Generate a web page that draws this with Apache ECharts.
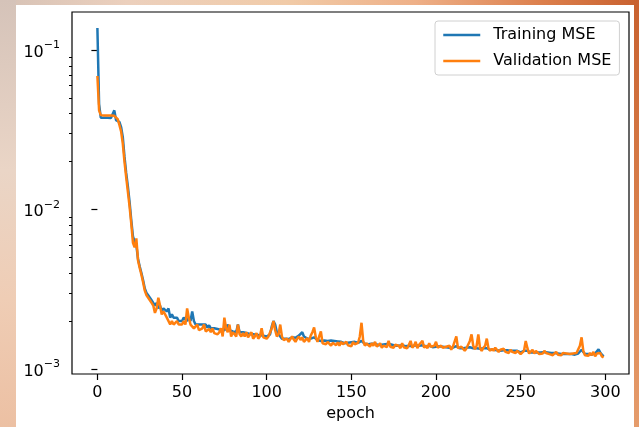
<!DOCTYPE html>
<html><head><meta charset="utf-8">
<script src="https://cdn.jsdelivr.net/npm/echarts@6/dist/echarts.min.js"></script>
<style>
html,body{margin:0;padding:0;width:639px;height:427px;overflow:hidden;}
#bg{position:absolute;left:0;top:0;width:639px;height:427px;background:linear-gradient(to right,#d6c2b6 0%,#ecd0bd 20%,#f1cba8 45%,#eeb088 65%,#dc7f4c 85%,#c8612f 100%);}
#left{position:absolute;left:0;top:0;width:16px;height:427px;background:linear-gradient(to bottom,#d5c3b9 0%,#ead5c6 40%,#efcdb5 70%,#ecc0a3 100%);}
#right{position:absolute;left:634px;top:0;width:5px;height:427px;background:linear-gradient(to bottom,#c8612f 0%,#d9804c 50%,#e59c6c 100%);}
#paper{position:absolute;left:16px;top:5px;width:618px;height:422px;background:#fff;}
#chart{position:absolute;left:0;top:0;width:639px;height:427px;}
</style></head>
<body>
<div id="bg"></div><div id="left"></div><div id="right"></div><div id="paper"></div>
<div id="chart"></div>
<script>
const seriesNames = ['Training MSE', 'Validation MSE'];
const xLabel = 'epoch';
const xTicks = [0, 50, 100, 150, 200, 250, 300];
const yMajorTicks = [0.001, 0.01, 0.1];
const yMajorExponents = ['−3', '−2', '−1'];
const yMinorTicks = [0.002,0.003,0.004,0.005,0.006,0.007,0.008,0.009,0.02,0.03,0.04,0.05,0.06,0.07,0.08,0.09];

const trainingMSE = [
.138,.046,.0378,.0377,.0377,.0377,.0377,.0377,.0376,.0378,
.042,.0365,.0368,.0355,.033,.0285,.0215,.017,.014,.0112,
.0086,.0068,.0063,.006,.0049,.0044,.004,.0036,.0032,.003,
.0029,.0028,.0027,.0026,.0025,.0026,.0024,.0025,.0023,.0024,
.00235,.0023,.0024,.0021,.0022,.0021,.00205,.0021,.002,.00205,
.002,.0021,.00205,.002,.0021,.002,.0023,.002,.0019,.00195,
.0019,.00188,.0019,.00185,.0019,.00182,.00188,.0018,.00185,.0018,
.00183,.00178,.0018,.00176,.0018,.00175,.00178,.0019,.00175,.0018,
.00172,.00176,.0017,.0019,.0017,.00168,.0017,.00166,.00168,.00165,
.00166,.00163,.00165,.00162,.00164,.0016,.00163,.0016,.00162,.00158,
.0016,.00158,.00165,.00185,.002,.0019,.0017,.00165,.0016,.00155,
.00156,.00155,.00157,.00154,.00156,.00158,.00155,.00157,.0016,.00162,
.00165,.0017,.0016,.00157,.00155,.00153,.00155,.00156,.00158,.00154,
.00152,.00154,.0015,.00152,.00151,.00153,.0015,.00149,.00151,.00148,
.0015,.00147,.00149,.00146,.00148,.00147,.00145,.00148,.00146,.00145,
.00147,.00145,.00148,.00144,.00146,.00148,.0015,.00146,.00144,.00145,
.00143,.00145,.00144,.00142,.00144,.00143,.00141,.00144,.00142,.00141,
.00143,.00141,.00144,.0014,.00142,.00141,.0014,.00142,.0014,.00139,
.00141,.0014,.00139,.00141,.0014,.00142,.00139,.0014,.00141,.00138,
.0014,.00139,.00141,.00138,.00139,.00138,.0014,.00138,.00137,.00139,
.00138,.00137,.00139,.00137,.00138,.00136,.00137,.00138,.00136,.00137,
.00136,.00138,.00139,.00136,.00135,.00137,.00135,.00134,.00136,.00135,
.00137,.00138,.00135,.00134,.00135,.00137,.00134,.00133,.00135,.00134,
.00135,.00133,.00132,.00134,.00132,.00133,.00131,.00132,.0013,.00132,
.00131,.0013,.00131,.00129,.0013,.00129,.0013,.00128,.0013,.00128,
.00127,.00128,.0013,.00132,.0013,.00128,.00127,.00129,.00127,.00128,
.00127,.00126,.00127,.00126,.00128,.00126,.00127,.00125,.00126,.00125,
.00126,.00127,.00125,.00126,.00124,.00125,.00124,.00125,.00124,.00123,
.00124,.00125,.00123,.00124,.00125,.00128,.00132,.00128,.00124,.00123,
.00124,.00125,.00123,.00126,.00125,.00128,.00133,.00127,.00123,.0012
];

const validationMSE = [
.069,.042,.0392,.039,.039,.039,.039,.0392,.039,.039,
.0388,.0395,.037,.034,.031,.026,.02,.016,.013,.0105,
.0082,.0062,.0058,.0066,.0048,.0043,.0039,.0035,.0031,.0029,
.00285,.0027,.0026,.0025,.00225,.0024,.0028,.0025,.0022,.0023,
.0022,.0021,.00215,.0019,.002,.0019,.00195,.002,.0019,.00195,
.0019,.002,.0019,.0024,.0021,.0019,.00195,.0018,.00185,.0019,
.00175,.00178,.0018,.0019,.00172,.0017,.00178,.0017,.0018,.00168,
.0017,.00165,.0017,.0018,.0016,.0021,.0018,.0017,.0019,.0016,
.0017,.00165,.0016,.0019,.00165,.0016,.00168,.0016,.0017,.00158,
.0016,.0017,.00155,.0016,.00168,.00155,.0016,.0018,.00158,.0016,
.00155,.0016,.00158,.0018,.002,.00175,.0016,.00165,.0019,.0016,
.00152,.0015,.00155,.00148,.00152,.0016,.00153,.00148,.00155,.0016,
.00152,.00158,.00148,.00152,.00156,.00148,.00162,.0017,.00182,.00158,
.00148,.0016,.00172,.00145,.00148,.00143,.00148,.00145,.0014,.00146,
.0015,.00141,.00147,.0014,.00148,.00143,.00139,.00148,.00141,.00144,
.00139,.00148,.00143,.00139,.00146,.0016,.00195,.0015,.0014,.00145,
.00142,.00138,.00145,.0014,.00148,.00138,.0014,.00145,.00136,.0014,
.00143,.00137,.0015,.00138,.0014,.00136,.00142,.00138,.0014,.00135,
.00145,.00137,.0014,.00135,.00142,.0015,.00136,.0014,.00148,.00135,
.00142,.00138,.0015,.00136,.0014,.00135,.00145,.00138,.00135,.0014,
.00148,.00136,.00134,.0014,.00136,.00133,.00138,.00135,.0014,.00132,
.00138,.0014,.0016,.00135,.00132,.00138,.00134,.0013,.00135,.00138,
.0015,.00165,.0014,.00133,.0014,.00165,.00135,.0013,.00136,.0014,
.00155,.00135,.0013,.00134,.0013,.00136,.00132,.00128,.00132,.0013,
.00134,.00128,.0013,.00126,.00132,.00128,.0013,.00126,.0013,.00128,
.00124,.00127,.0013,.0015,.00135,.00125,.00128,.00132,.00125,.0013,
.00128,.00124,.00127,.00125,.0013,.00126,.00128,.00124,.00126,.00122,
.00125,.00128,.00123,.00125,.00122,.00126,.00123,.00125,.00122,.00124,
.00121,.00125,.00122,.00126,.00124,.0014,.00158,.0013,.00122,.00125,
.00121,.00126,.00122,.00128,.0012,.00125,.00122,.00126,.0012,.00118
];

const FONT = 'DejaVu Sans';
const chart = echarts.init(document.getElementById('chart'), null, {renderer: 'canvas'});
const toPairs = arr => arr.map((v, i) => [i, v]);
const yRange = {min: 0.00093, max: 0.174};

chart.setOption({
  animation: false,
  backgroundColor: 'transparent',
  textStyle: {fontFamily: FONT},
  grid: {left: 72, top: 12, right: 10, bottom: 53, show: true, borderColor: '#000', borderWidth: 1.2,
         backgroundColor: '#fff', containLabel: false, outerBoundsMode: 'none'},
  legend: {
    orient: 'vertical', left: 435, top: 21,
    data: seriesNames,
    itemWidth: 37, itemHeight: 14, itemGap: 10,
    padding: [6, 8, 6, 7],
    backgroundColor: '#fff', borderColor: '#d0d0d0', borderWidth: 1, borderRadius: 3,
    itemStyle: {color: 'transparent', borderWidth: 0, opacity: 0},
    lineStyle: {width: 2.5},
    textStyle: {fontFamily: FONT, fontSize: 16, color: '#000', padding: [0, 0, 0, 8]}
  },
  xAxis: {
    type: 'value', min: -15, max: 314,
    name: xLabel, nameLocation: 'middle', nameGap: 31,
    nameTextStyle: {fontFamily: FONT, fontSize: 16, color: '#000'},
    axisLine: {show: false},
    splitLine: {show: false},
    axisTick: {show: true, customValues: xTicks, length: 6, lineStyle: {color: '#000', width: 1.2}},
    axisLabel: {customValues: xTicks, margin: 11, fontFamily: FONT, fontSize: 16, color: '#000'}
  },
  yAxis: [{
    type: 'log', logBase: 10, min: yRange.min, max: yRange.max,
    axisLine: {show: false},
    splitLine: {show: false},
    axisTick: {show: true, customValues: yMajorTicks, length: 6, lineStyle: {color: '#000', width: 1.2}},
    axisLabel: {
      customValues: yMajorTicks, margin: 12, fontFamily: FONT, color: '#000',
      formatter: function (v) {
        const idx = yMajorTicks.findIndex(t => Math.abs(Math.log10(t) - Math.log10(v)) < 1e-6);
        return '{b|10}{s|' + (idx >= 0 ? yMajorExponents[idx] : '') + '}';
      },
      rich: {
        b: {fontFamily: FONT, fontSize: 16, color: '#000', padding: [5, 0, 0, 0]},
        s: {fontFamily: FONT, fontSize: 11, color: '#000', verticalAlign: 'top'}
      }
    }
  }, {
    type: 'log', logBase: 10, min: yRange.min, max: yRange.max, position: 'left',
    axisLine: {show: false},
    splitLine: {show: false},
    axisLabel: {show: false},
    axisTick: {show: true, customValues: yMinorTicks, length: 3, lineStyle: {color: '#000', width: 1}}
  }],
  series: [
    {name: seriesNames[0], type: 'line', data: toPairs(trainingMSE), yAxisIndex: 0,
     symbol: 'none', lineStyle: {color: '#1f77b4', width: 2.5}, itemStyle: {color: '#1f77b4'}},
    {name: seriesNames[1], type: 'line', data: toPairs(validationMSE), yAxisIndex: 0,
     symbol: 'none', lineStyle: {color: '#ff7f0e', width: 2.5}, itemStyle: {color: '#ff7f0e'}}
  ]
});
</script>
</body></html>
